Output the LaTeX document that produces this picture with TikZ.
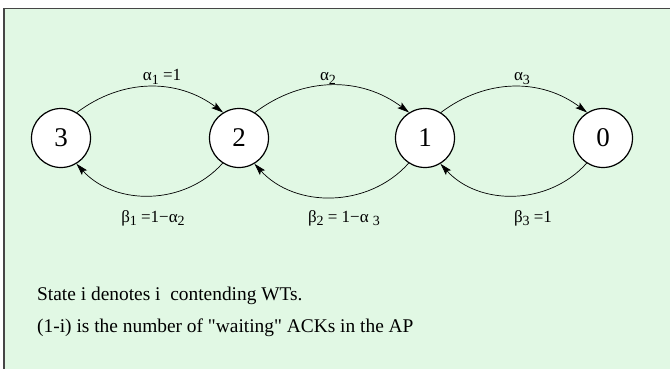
\documentclass[tikz,border=0pt]{standalone}
\usepackage{fontspec}
\setmainfont{Liberation Serif}
\newfontfamily\plainserif{Liberation Serif}
\usetikzlibrary{arrows.meta}
\definecolor{bgreen}{RGB}{225,248,228}
\definecolor{frame}{RGB}{70,70,70}
\newcommand\sbs[1]{\raisebox{-0.45ex}{\fontsize{14}{14}\selectfont #1}}
\tikzset{
  state/.style={circle, draw=black, fill=white, line width=1.2pt, minimum size=59pt, inner sep=0pt, font=\fontsize{27}{27}\selectfont},
  trans/.style={line width=0.7pt, -{Stealth[length=12pt,width=7pt,inset=2.5pt]}},
  lbl/.style={anchor=base, inner sep=0pt, font=\fontsize{17}{17}\selectfont},
  note/.style={anchor=base west, inner sep=0pt, font=\fontsize{19.4}{19.4}\selectfont}
}
\begin{document}
\begin{tikzpicture}[x=1pt,y=1pt]
\useasboundingbox (0,0) rectangle (670,-369);
\fill[bgreen] (4,-8.5) rectangle (670,-369);
\draw[frame, line width=1.4pt] (4,-369) -- (4,-8.5) -- (670,-8.5);
\node[state] (s3) at (61,-138) {3};
\node[state] (s2) at (239,-138) {2};
\node[state] (s1) at (425,-138) {1};
\node[state] (s0) at (603,-138) {0};
\draw[trans] (s3.58) to[bend left=37] (s2.122);
\draw[trans] (s2.58) to[bend left=37] (s1.122);
\draw[trans] (s1.58) to[bend left=37] (s0.122);
\draw[trans] (s2.237) to[bend left=48] (s3.301);
\draw[trans] (s1.237) to[bend left=48] (s2.301);
\draw[trans] (s0.237) to[bend left=48] (s1.301);
\node[lbl] (a1) at (162,-81) {α\sbs{1} =1};
\node[lbl] (a2) at (328,-81) {α\sbs{2}};
\node[lbl] (a3) at (522,-81) {α\sbs{3}};
\node[lbl] (b1) at (153,-222) {β\sbs{1} =1−α\sbs{2}};
\node[lbl] (b2) at (344,-222) {β\sbs{2} = 1−α \sbs{3}};
\node[lbl] (b3) at (533,-222) {β\sbs{3} =1};
\node[note] (t1) at (37,-300) {State i denotes i\ \ contending WTs.};
\node[note] (t2) at (37,-332) {(1-i) is the number of {\plainserif"}waiting{\plainserif"} ACKs in the AP};
\end{tikzpicture}
\end{document}
